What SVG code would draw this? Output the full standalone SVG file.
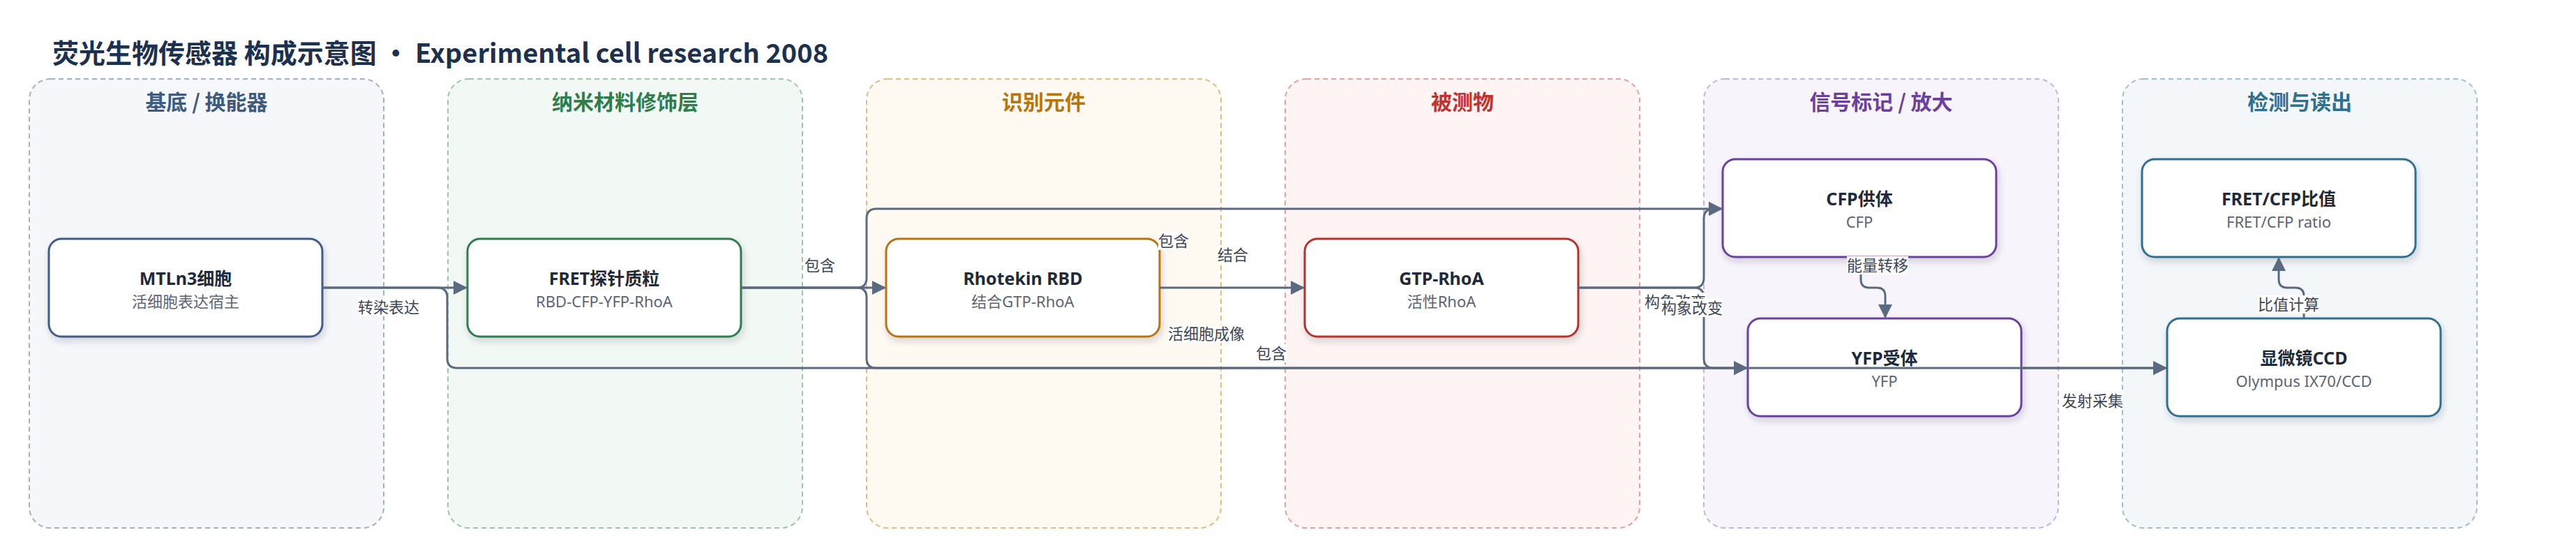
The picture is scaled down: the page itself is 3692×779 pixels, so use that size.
<svg xmlns="http://www.w3.org/2000/svg" width="3692" height="779" viewBox="0 0 3692 779">
<defs>
<filter id="sh" x="-10%" y="-20%" width="125%" height="150%">
<feDropShadow dx="2" dy="5" stdDeviation="5" flood-color="#1e2a3a" flood-opacity="0.18"/>
</filter>
<marker id="arr" markerUnits="userSpaceOnUse" markerWidth="20" markerHeight="20" refX="18" refY="10" orient="auto">
<path d="M0,0 L20,10 L0,20 z" fill="#5a6a80"/>
</marker>
<style>
.grp{stroke-width:2;stroke-dasharray:7 5}
.gt{font-family:"Noto Sans CJK SC","Noto Sans",sans-serif;font-size:30px;font-weight:700;text-anchor:middle}
.nd{fill:#fff;stroke-width:3;filter:url(#sh)}
.nt{font-family:"Noto Sans","Noto Sans CJK SC",sans-serif;font-size:25px;font-weight:700;fill:#1e2a3a;text-anchor:middle}
.ns{font-family:"Noto Sans","Noto Sans CJK SC",sans-serif;font-size:22px;fill:#5b6475;text-anchor:middle}
.e{fill:none;stroke:#5a6a80;stroke-width:3}
.lb{fill:#fff}
.lt{font-family:"Noto Sans CJK SC","Noto Sans",sans-serif;font-size:22px;fill:#3b4556;text-anchor:middle}
</style>
</defs>
<rect width="3692" height="779" fill="#fff"/>
<text x="75" y="90" font-family="'Noto Sans CJK SC','Noto Sans',sans-serif" font-size="38" font-weight="700" fill="#1c3150">荧光生物传感器 构成示意图 · Experimental cell research 2008</text>

<g id="group-substrate">
<rect class="grp" x="42" y="113" width="508" height="643" rx="30" fill="#f5f7fb" stroke="#a3b1c6"/>
<text class="gt" x="296" y="157" fill="#3d5a80">基底 / 换能器</text>
</g>
<g id="group-nano">
<rect class="grp" x="642" y="113" width="508" height="643" rx="30" fill="#f2f9f4" stroke="#9cc6a8"/>
<text class="gt" x="896" y="157" fill="#2e7d4a">纳米材料修饰层</text>
</g>
<g id="group-recog">
<rect class="grp" x="1242" y="113" width="508" height="643" rx="30" fill="#fef9f1" stroke="#e3bc80"/>
<text class="gt" x="1496" y="157" fill="#b8740e">识别元件</text>
</g>
<g id="group-analyte">
<rect class="grp" x="1842" y="113" width="508" height="643" rx="30" fill="#fef4f3" stroke="#e5a0a0"/>
<text class="gt" x="2096" y="157" fill="#c0322b">被测物</text>
</g>
<g id="group-signal">
<rect class="grp" x="2442" y="113" width="508" height="643" rx="30" fill="#f7f4fc" stroke="#c7b2e0"/>
<text class="gt" x="2696" y="157" fill="#6b3fa0">信号标记 / 放大</text>
</g>
<g id="group-detect">
<rect class="grp" x="3042" y="113" width="508" height="643" rx="30" fill="#f3f7f9" stroke="#a0c0d0"/>
<text class="gt" x="3296" y="157" fill="#2f6f8f">检测与读出</text>
</g>

<g id="node-mtln3">
<rect class="nd" x="70" y="342" width="392" height="140" rx="18" stroke="#3f5b87"/>
<text class="nt" x="266" y="408">MTLn3细胞</text>
<text class="ns" x="266" y="440">活细胞表达宿主</text>
</g>
<g id="node-fret">
<rect class="nd" x="670" y="342" width="392" height="140" rx="18" stroke="#2e7d4f"/>
<text class="nt" x="866" y="408">FRET探针质粒</text>
<text class="ns" x="866" y="440">RBD-CFP-YFP-RhoA</text>
</g>
<g id="node-rhotekin">
<rect class="nd" x="1270" y="342" width="392" height="140" rx="18" stroke="#b8740e"/>
<text class="nt" x="1466" y="408">Rhotekin RBD</text>
<text class="ns" x="1466" y="440">结合GTP-RhoA</text>
</g>
<g id="node-gtp">
<rect class="nd" x="1870" y="342" width="392" height="140" rx="18" stroke="#b8312b"/>
<text class="nt" x="2066" y="408">GTP-RhoA</text>
<text class="ns" x="2066" y="440">活性RhoA</text>
</g>
<g id="node-cfp">
<rect class="nd" x="2469" y="228" width="392" height="140" rx="18" stroke="#6b40a0"/>
<text class="nt" x="2665" y="294">CFP供体</text>
<text class="ns" x="2665" y="326">CFP</text>
</g>
<g id="node-yfp">
<rect class="nd" x="2505" y="456" width="392" height="140" rx="18" stroke="#6b40a0"/>
<text class="nt" x="2701" y="522">YFP受体</text>
<text class="ns" x="2701" y="554">YFP</text>
</g>
<g id="node-ratio">
<rect class="nd" x="3070" y="228" width="392" height="140" rx="18" stroke="#2f6f8f"/>
<text class="nt" x="3266" y="294">FRET/CFP比值</text>
<text class="ns" x="3266" y="326">FRET/CFP ratio</text>
</g>
<g id="node-ccd">
<rect class="nd" x="3106" y="456" width="392" height="140" rx="18" stroke="#2f6f8f"/>
<text class="nt" x="3302" y="522">显微镜CCD</text>
<text class="ns" x="3302" y="554">Olympus IX70/CCD</text>
</g>

<g id="connectors">
<path class="e" d="M462 412 H668" marker-end="url(#arr)"/>
<path class="e" d="M462 412 H627 Q641 412 641 426 V513 Q641 527 655 527 H3104" marker-end="url(#arr)"/>
<path class="e" d="M1062 412 H1268" marker-end="url(#arr)"/>
<path class="e" d="M1062 412 H1228 Q1242 412 1242 398 V313 Q1242 299 1256 299 H2467" marker-end="url(#arr)"/>
<path class="e" d="M1062 412 H1228 Q1242 412 1242 426 V513 Q1242 527 1256 527 H2503" marker-end="url(#arr)"/>
<path class="e" d="M1662 412 H1868" marker-end="url(#arr)"/>
<path class="e" d="M2262 412 H2428 Q2442 412 2442 398 V313 Q2442 299 2456 299 H2467" marker-end="url(#arr)"/>
<path class="e" d="M2262 412 H2428 Q2442 412 2442 426 V513 Q2442 527 2456 527 H2503" marker-end="url(#arr)"/>
<path class="e" d="M2667 368 V400 Q2667 412 2679 412 H2690 Q2702 412 2702 424 V454" marker-end="url(#arr)"/>
<path class="e" d="M2897 527 H3104" marker-end="url(#arr)"/>
<path class="e" d="M3302 456 V424 Q3302 412 3290 412 H3278 Q3266 412 3266 400 V370" marker-end="url(#arr)"/>

<rect class="lb" x="513" y="427" width="88" height="26"/>
<text class="lt" x="557" y="448">转染表达</text>
<rect class="lb" x="1153" y="367" width="44" height="26"/>
<text class="lt" x="1175" y="388">包含</text>
<rect class="lb" x="1660" y="332" width="44" height="26"/>
<text class="lt" x="1682" y="353">包含</text>
<rect class="lb" x="1745" y="352" width="44" height="26"/>
<text class="lt" x="1767" y="373">结合</text>
<rect class="lb" x="1674" y="465" width="110" height="26"/>
<text class="lt" x="1729" y="486">活细胞成像</text>
<rect class="lb" x="1800" y="493" width="44" height="26"/>
<text class="lt" x="1822" y="514">包含</text>
<rect class="lb" x="2357" y="419" width="88" height="26"/>
<text class="lt" x="2401" y="440">构象改变</text>
<rect class="lb" x="2381" y="428" width="88" height="26"/>
<text class="lt" x="2425" y="449">构象改变</text>
<rect class="lb" x="2647" y="367" width="88" height="26"/>
<text class="lt" x="2691" y="388">能量转移</text>
<rect class="lb" x="2955" y="561" width="88" height="26"/>
<text class="lt" x="2999" y="582">发射采集</text>
<rect class="lb" x="3236" y="423" width="88" height="26"/>
<text class="lt" x="3280" y="444">比值计算</text>
</g>
</svg>
